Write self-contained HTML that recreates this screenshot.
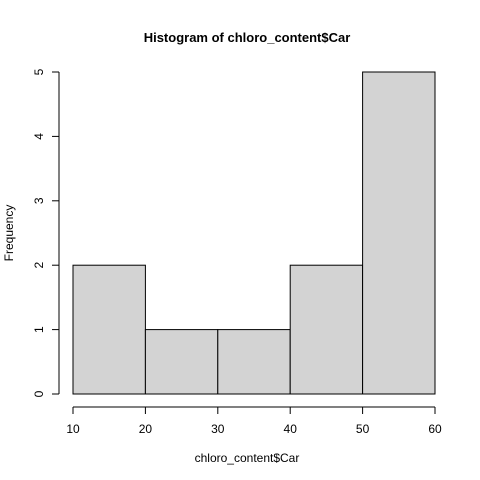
<!DOCTYPE html>
<html><head><meta charset="utf-8"><style>body{margin:0;background:#fff}svg{display:block;font-family:"Liberation Sans",Arial,sans-serif}</style></head>
<body>
<svg id="chart" width="480" height="480">
<rect width="480" height="480" fill="#fff"/>
<text x="247" y="42" font-size="13" font-weight="bold" text-anchor="middle">Histogram of chloro_content$Car</text>
<text x="247" y="462" font-size="12" text-anchor="middle">chloro_content$Car</text>
<text transform="translate(13,233) rotate(-90)" font-size="12" text-anchor="middle">Frequency</text>
<g id="bars"></g><g id="xaxis"></g><g id="yaxis"></g>
</svg>
<script>
const breaks = [10, 20, 30, 40, 50, 60];
const counts = [2, 1, 1, 2, 5];
const xTicks = [10, 20, 30, 40, 50, 60];
const yTicks = [0, 1, 2, 3, 4, 5];
const NS = "http://www.w3.org/2000/svg";
function x(v){return 73 + (v-10)*(435-73)/50;}
function y(v){return 394 - v*(394-72)/5;}
function mk(tag, attrs, parent){const e=document.createElementNS(NS,tag);for(const k in attrs)e.setAttribute(k,attrs[k]);parent.appendChild(e);return e;}
const bars=document.getElementById('bars');
counts.forEach((c,i)=>{
  const r=mk('rect',{x:x(breaks[i]),y:y(c),width:x(breaks[i+1])-x(breaks[i]),height:y(0)-y(c),fill:'#d3d3d3',stroke:'#000','stroke-width':1},bars);
  
  
});
const xa=document.getElementById('xaxis');


mk('line',{x1:x(xTicks[0]),x2:x(xTicks[xTicks.length-1]),y1:407,y2:407,stroke:'#000'},xa);
xTicks.forEach(t=>{
  mk('line',{x1:x(t),x2:x(t),y1:407,y2:414,stroke:'#000'},xa);
  const tx=mk('text',{x:x(t),y:433,'font-size':12,'text-anchor':'middle'},xa);
  tx.textContent=t;
  
  
});
const ya=document.getElementById('yaxis');


mk('line',{x1:59,x2:59,y1:y(yTicks[0]),y2:y(yTicks[yTicks.length-1]),stroke:'#000'},ya);
yTicks.forEach(t=>{
  mk('line',{x1:52,x2:59,y1:y(t),y2:y(t),stroke:'#000'},ya);
  const tx=mk('text',{transform:`translate(43,${y(t)}) rotate(-90)`,'font-size':12,'text-anchor':'middle'},ya);
  tx.textContent=t;
  
  
});
</script>
</body></html>
